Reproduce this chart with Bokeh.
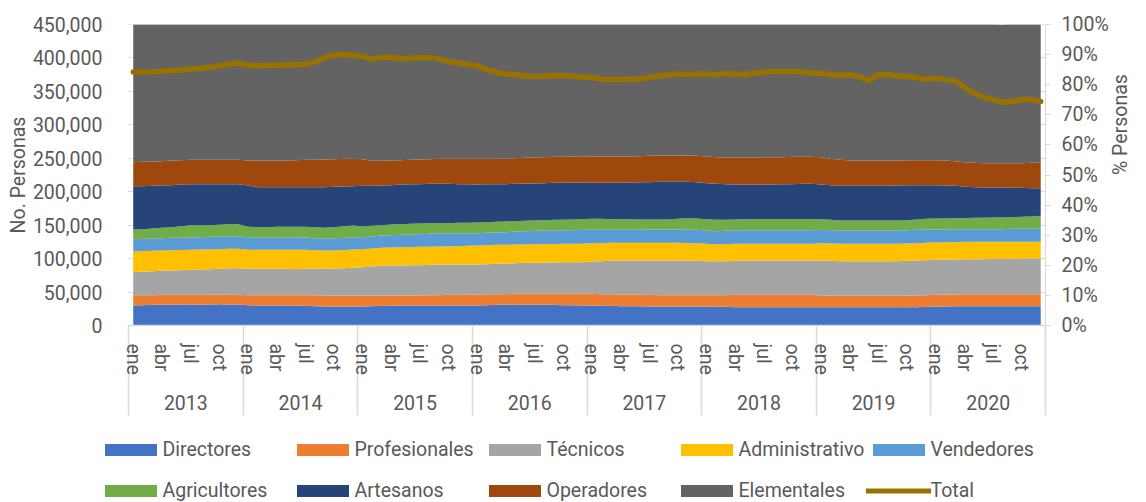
from math import pi
from bokeh.plotting import figure
from bokeh.models import (ColumnDataSource, Range1d, LinearAxis, FixedTicker, NumeralTickFormatter,
                          CustomJSTickFormatter, Legend, LegendItem, Span, Grid)
from bokeh.embed import file_html
from bokeh.resources import INLINE

# ---------------- data (monthly, ene 2013 - dic 2020) ----------------
years = ["2013", "2014", "2015", "2016", "2017", "2018", "2019", "2020"]
month_names = ["ene", "", "", "abr", "", "", "jul", "", "", "oct", "", ""]

directores = [29900, 30400, 30900, 31400, 31000, 31400, 31400, 31200, 31400, 31900, 31400, 31400,
              30400, 29900, 29900, 29900, 29900, 29900, 29400, 28900, 28400, 28400, 28400, 28400,
              28400, 28900, 29400, 29400, 29900, 29900, 29900, 29900, 29900, 29900, 29900, 29900,
              29900, 30400, 30900, 30900, 30900, 30900, 30900, 30900, 30900, 30400, 30400, 29900,
              29900, 29400, 29400, 28900, 28900, 28900, 28400, 28400, 28400, 28400, 28400, 28400,
              28400, 27900, 27900, 27400, 27400, 27400, 27400, 27400, 27400, 27400, 27400, 27400,
              27400, 27400, 27400, 27400, 27400, 27400, 27400, 27400, 27400, 27400, 27400, 27900,
              28400, 28400, 28900, 28900, 28900, 28900, 28900, 28900, 28900, 28900, 28900, 28900]

profesionales = [15400, 14900, 14400, 14400, 14800, 14400, 14400, 14600, 14400, 14400, 14400, 14400,
                 14900, 15400, 15400, 15400, 15400, 15400, 15900, 16400, 16400, 16400, 16400, 16400,
                 16400, 15900, 15400, 15400, 14900, 14900, 14900, 15400, 15400, 15900, 15900, 15900,
                 16400, 16400, 15900, 15900, 16400, 16400, 16400, 16400, 16400, 16900, 16900, 17400,
                 17400, 17400, 17400, 17400, 17400, 16900, 17400, 16900, 16900, 16900, 16900, 16900,
                 16900, 17400, 17400, 18400, 18400, 18400, 18400, 18400, 18400, 18400, 18400, 18400,
                 17400, 17400, 16900, 16900, 16900, 16900, 16900, 16900, 16900, 17400, 17400, 17400,
                 17400, 17900, 17400, 17900, 17900, 17900, 17900, 17900, 17900, 17900, 17900, 17900]

tecnicos = [34400, 34900, 35900, 35900, 36400, 36900, 37400, 37900, 38400, 38400, 39900, 39900,
            39400, 39400, 39400, 39400, 39400, 38900, 39400, 39900, 40400, 40400, 40900, 41400,
            42400, 43400, 44400, 44900, 44900, 45400, 45400, 45400, 45900, 45400, 45400, 45400,
            44900, 44900, 45400, 45900, 45900, 46400, 46400, 46900, 46900, 47400, 47400, 47400,
            48400, 49400, 49900, 50900, 50900, 51400, 51400, 51900, 51900, 51900, 51900, 51400,
            50900, 50900, 50900, 50900, 51400, 51400, 51400, 51400, 51400, 51400, 51400, 51400,
            52400, 51900, 51900, 51900, 51900, 51900, 51900, 51900, 51900, 51900, 52400, 52400,
            52400, 52400, 52400, 52400, 52400, 52400, 52900, 52900, 52900, 53400, 53400, 53400]

administrativo = [30900, 30900, 30400, 30400, 30400, 30100, 29900, 29900, 29400, 29400, 28900, 28900,
                  28400, 28400, 28400, 28400, 28400, 28900, 28400, 27400, 26900, 26900, 26900, 27400,
                  26900, 26900, 26900, 26900, 27400, 26900, 27400, 26900, 26900, 26900, 27400, 27900,
                  28400, 28400, 28400, 27900, 27900, 27400, 27900, 27400, 27400, 27400, 27400, 27400,
                  27400, 26900, 26900, 26400, 26400, 26400, 26400, 26400, 26400, 26400, 25900, 26400,
                  25900, 24900, 25400, 25400, 24900, 24900, 24900, 24900, 24900, 24900, 24900, 24900,
                  25900, 25900, 25900, 25900, 25900, 25900, 25900, 25900, 25900, 25900, 25900, 25900,
                  25900, 25900, 25900, 25900, 25900, 25900, 25400, 25400, 25400, 24900, 24900, 24900]

vendedores = [18500, 18500, 18500, 18500, 18500, 18500, 18400, 18400, 18900, 18900, 18900, 18900,
              18900, 18900, 18900, 18900, 18900, 18900, 18400, 17900, 17900, 18400, 18400, 18400,
              17900, 17900, 18400, 18400, 18400, 18900, 18900, 19400, 19900, 19900, 19400, 18900,
              18400, 18400, 18400, 18900, 19400, 19900, 19900, 19900, 20400, 20400, 20400, 20900,
              19900, 19900, 19400, 19400, 19400, 19400, 19900, 19900, 19900, 19900, 19900, 19900,
              19900, 19900, 19900, 19900, 20400, 20400, 20400, 20400, 20400, 20400, 20400, 20400,
              19900, 19900, 19900, 19900, 19900, 19900, 19900, 19900, 19900, 19900, 19900, 19900,
              19400, 18900, 19400, 18900, 18900, 18900, 18900, 18900, 19400, 19400, 19400, 19400]

agricultores = [14400, 14400, 14900, 15400, 15900, 17200, 18500, 18000, 17500, 17500, 18000, 18000,
                15500, 15000, 15000, 15500, 15500, 15500, 16000, 16500, 16000, 16500, 17500, 17500,
                16000, 16000, 15500, 16000, 16000, 16000, 16000, 16000, 15000, 15000, 15500, 15500,
                16000, 16000, 16000, 16000, 15500, 15500, 15500, 16000, 16000, 15500, 16000, 16000,
                16500, 16500, 16000, 16000, 16000, 15500, 15000, 15000, 15000, 16000, 17500, 17000,
                17000, 17000, 16500, 16500, 16500, 16500, 16500, 16500, 16500, 16500, 16500, 16500,
                16000, 15500, 15000, 15000, 15000, 15000, 15000, 15000, 15000, 15000, 15500, 16000,
                16500, 16500, 16500, 16500, 17000, 17000, 17500, 17500, 17500, 18000, 18500, 19500]

artesanos = [64800, 64300, 63800, 63300, 62800, 62300, 61300, 61300, 61300, 60800, 59800, 59800,
             61800, 59800, 59800, 59300, 59300, 59300, 59300, 59800, 60800, 60300, 59300, 58800,
             60800, 59800, 59300, 58800, 59300, 59300, 58800, 58800, 58800, 58800, 57800, 57800,
             56800, 56800, 56300, 55800, 55800, 55800, 55300, 55300, 55300, 55300, 55300, 54800,
             53800, 53800, 54300, 54300, 54800, 55800, 55800, 56300, 56300, 55300, 54300, 54300,
             53800, 53800, 53300, 52300, 51800, 51800, 51800, 51800, 52300, 52300, 52800, 52800,
             51800, 51800, 51800, 51800, 51800, 51800, 51800, 51800, 52300, 52300, 51300, 50300,
             49800, 49300, 48300, 47300, 45800, 45300, 44800, 44800, 43800, 43300, 42300, 41300]

operadores = [35900, 36400, 36400, 36400, 36900, 36400, 36400, 36400, 36400, 36400, 36400, 36400,
              37400, 39900, 39900, 39900, 39900, 40400, 40900, 40900, 41400, 41400, 41400, 40900,
              39900, 37400, 36900, 36900, 36400, 36400, 36900, 36900, 37400, 37400, 37900, 37900,
              38400, 37900, 37900, 38400, 38400, 38400, 38900, 38900, 38800, 38800, 38800, 39300,
              39300, 39300, 39300, 39300, 38800, 38800, 39300, 39300, 39300, 39300, 39300, 39300,
              39800, 39800, 39800, 40300, 40300, 40300, 40800, 40800, 40300, 40800, 40300, 40300,
              40800, 39400, 38900, 37900, 37900, 37900, 37900, 37900, 37400, 37400, 37400, 37400,
              37400, 37400, 36900, 36400, 36400, 36400, 36400, 36400, 36900, 36900, 37900, 37900]

elementales = [208000, 209000, 207000, 208000, 210000, 209000, 208000, 207000, 209000, 208000, 210000, 209000,
               208000, 207000, 209000, 208000, 210000, 209000, 208000, 207000, 209000, 208000, 210000, 209000,
               208000, 207000, 209000, 208000, 210000, 209000, 208000, 207000, 209000, 208000, 210000, 209000,
               208000, 207000, 209000, 208000, 210000, 209000, 208000, 207000, 209000, 208000, 210000, 209000,
               208000, 207000, 209000, 208000, 210000, 209000, 208000, 207000, 209000, 208000, 210000, 209000,
               208000, 207000, 209000, 208000, 210000, 209000, 208000, 207000, 209000, 208000, 210000, 209000,
               208000, 207000, 209000, 208000, 210000, 209000, 208000, 207000, 209000, 208000, 210000, 209000,
               208000, 207000, 209000, 208000, 210000, 209000, 208000, 207000, 209000, 208000, 210000, 209000]

total_pct = [84.2, 84.2, 84.3, 84.5, 84.7, 84.9, 85.2, 85.4, 85.8, 86.2, 86.8, 87.2,
             86.4, 86.4, 86.4, 86.5, 86.6, 86.6, 86.8, 87.5, 88.9, 89.8, 90.1, 89.7,
             89.4, 88.4, 89.1, 89.1, 88.6, 88.8, 89.0, 89.0, 88.6, 87.7, 87.2, 86.7,
             86.3, 84.9, 84.2, 83.5, 83.3, 82.9, 82.7, 82.8, 83.0, 83.0, 82.8, 82.5,
             82.5, 81.8, 81.7, 81.7, 81.8, 81.8, 82.5, 82.9, 83.2, 83.5, 83.5, 83.5,
             83.6, 83.3, 83.7, 83.5, 83.4, 83.8, 84.1, 84.4, 84.5, 84.4, 84.2, 83.9,
             83.8, 83.4, 83.1, 83.3, 82.7, 81.4, 83.3, 83.4, 82.9, 82.7, 82.4, 81.7,
             82.2, 81.6, 81.3, 79.2, 77.2, 75.9, 75.0, 74.2, 74.4, 75.1, 75.2, 74.4]

series_keys = ["directores", "profesionales", "tecnicos", "administrativo", "vendedores",
               "agricultores", "artesanos", "operadores", "elementales"]
series_labels = ["Directores", "Profesionales", "Técnicos", "Administrativo", "Vendedores",
                 "Agricultores", "Artesanos", "Operadores", "Elementales"]
series_colors = ["#4472C4", "#ED7D31", "#A5A5A5", "#FFC000", "#5B9BD5",
                 "#70AD47", "#264478", "#9E480E", "#636363"]
total_color = "#977200"

# ---------------- main figure ----------------
FONT = "Roboto"
FS = "19.5px"
TXT = "#595959"
GRID = "#d9d9d9"
W = 1146
H_MAIN = 420
H_LEG = 82

n = len(directores)
x = list(range(n))
source = ColumnDataSource(dict(
    x=x, directores=directores, profesionales=profesionales, tecnicos=tecnicos,
    administrativo=administrativo, vendedores=vendedores, agricultores=agricultores,
    artesanos=artesanos, operadores=operadores, elementales=elementales, total=total_pct))

p = figure(width=W, height=H_MAIN, output_backend="svg", toolbar_location=None,
           x_range=Range1d(-0.6047, 95.5), y_range=Range1d(0, 450000),
           min_border_left=127, min_border_right=101, min_border_top=24, min_border_bottom=95,
           x_axis_location=None, y_axis_location=None)
p.outline_line_color = None
p.background_fill_color = "white"
p.border_fill_color = "white"
p.extra_y_ranges = {"pct": Range1d(0, 100)}

yticks = list(range(0, 450001, 50000))
p.add_layout(Grid(dimension=1, ticker=FixedTicker(ticks=yticks), grid_line_color=GRID, grid_line_width=1))

areas = p.varea_stack(stackers=series_keys, x="x", color=series_colors, source=source)
line = p.line(x="x", y="total", source=source, y_range_name="pct", line_color=total_color,
              line_width=5.5, line_cap="round", line_join="round")

p.add_layout(Span(location=450000, dimension="width", line_color=GRID, line_width=1))

# left axis
ax_l = LinearAxis(ticker=FixedTicker(ticks=yticks), formatter=NumeralTickFormatter(format="0,0"),
                  axis_line_color=None, major_tick_line_color=None, minor_tick_line_color=None,
                  major_label_standoff=19, major_label_text_font=FONT, major_label_text_font_size=FS,
                  major_label_text_color=TXT,
                  axis_label="No. Personas", axis_label_standoff=0, axis_label_text_font=FONT,
                  axis_label_text_font_size=FS, axis_label_text_font_style="normal",
                  axis_label_text_color=TXT)
p.add_layout(ax_l, "left")

# right axis
ax_r = LinearAxis(y_range_name="pct", ticker=FixedTicker(ticks=list(range(0, 101, 10))),
                  formatter=CustomJSTickFormatter(code="return tick.toFixed(0) + '%';"),
                  axis_line_color=GRID, major_tick_line_color=GRID, major_tick_out=5, major_tick_in=0,
                  minor_tick_line_color=None, bounds=(0, 100),
                  major_label_standoff=11, major_label_text_font=FONT, major_label_text_font_size=FS,
                  major_label_text_color=TXT,
                  axis_label="% Personas", axis_label_standoff=9, axis_label_orientation=pi / 2,
                  axis_label_text_font=FONT, axis_label_text_font_size=FS,
                  axis_label_text_font_style="normal", axis_label_text_color=TXT)
p.add_layout(ax_r, "right")

# month axis (year separators drawn as long minor ticks)
month_ticks = [i for i in x if month_names[i % 12] != ""]
sep_ticks = [12 * k - 0.5 for k in range(len(years) + 1)]
ax_m = LinearAxis(ticker=FixedTicker(ticks=month_ticks, minor_ticks=sep_ticks),
                  formatter=CustomJSTickFormatter(args=dict(names=month_names),
                                                  code="return names[Math.round(tick) % 12];"),
                  major_label_orientation="vertical", major_tick_line_color=None,
                  minor_tick_line_color=GRID, minor_tick_out=90, minor_tick_in=0, minor_tick_line_width=1.5,
                  axis_line_color=GRID, axis_line_width=1.5, bounds=(-0.5, 95.5),
                  major_label_standoff=-72, major_label_text_font=FONT, major_label_text_font_size=FS,
                  major_label_text_color=TXT)
p.add_layout(ax_m, "below")

# year axis
ax_y = LinearAxis(ticker=FixedTicker(ticks=[12 * k + 5.5 for k in range(len(years))]),
                  formatter=CustomJSTickFormatter(args=dict(years=years),
                                                  code="return years[Math.floor(tick / 12)];"),
                  axis_line_color=None, major_tick_line_color=None, minor_tick_line_color=None,
                  major_label_standoff=11, major_label_text_font=FONT, major_label_text_font_size=FS,
                  major_label_text_color=TXT)
p.add_layout(ax_y, "below")

# ---------------- legend strip (separate root below the chart) ----------------
pl = figure(width=W, height=H_LEG, output_backend="svg", toolbar_location=None,
            x_range=Range1d(0, 1), y_range=Range1d(0, 1),
            min_border_left=0, min_border_right=0, min_border_top=0, min_border_bottom=0,
            x_axis_location=None, y_axis_location=None)
pl.outline_line_color = None
pl.background_fill_color = "white"
pl.border_fill_color = "white"
pl.xgrid.visible = False
pl.ygrid.visible = False

# legend proxies placed outside the visible range of the strip
leg_src = ColumnDataSource(dict(x=[5, 6], y1=[5, 5], y2=[6, 6], y=[5, 5]))
leg_areas = [pl.varea(x="x", y1="y1", y2="y2", source=leg_src, fill_color=c) for c in series_colors]
leg_line = pl.line(x="x", y="y", source=leg_src, line_color=total_color, line_width=5, line_cap="round")

items1 = [LegendItem(label=series_labels[i], renderers=[leg_areas[i]]) for i in range(5)]
items2 = [LegendItem(label=series_labels[i], renderers=[leg_areas[i]]) for i in range(5, 9)]
items2.append(LegendItem(label="Total", renderers=[leg_line]))

def make_legend(items, loc):
    return Legend(items=items, location=loc, orientation="horizontal", glyph_width=65, glyph_height=15,
                  label_standoff=0, label_width=127, spacing=0, padding=0, margin=0,
                  border_line_color=None, background_fill_alpha=0, label_text_font=FONT,
                  label_text_font_size=FS, label_text_color=TXT, label_height=20)

pl.add_layout(make_legend(items1, (97.5, 41)))
pl.add_layout(make_legend(items2, (97.5, 0)))

open("out.html", "w").write(file_html([p, pl], INLINE))
